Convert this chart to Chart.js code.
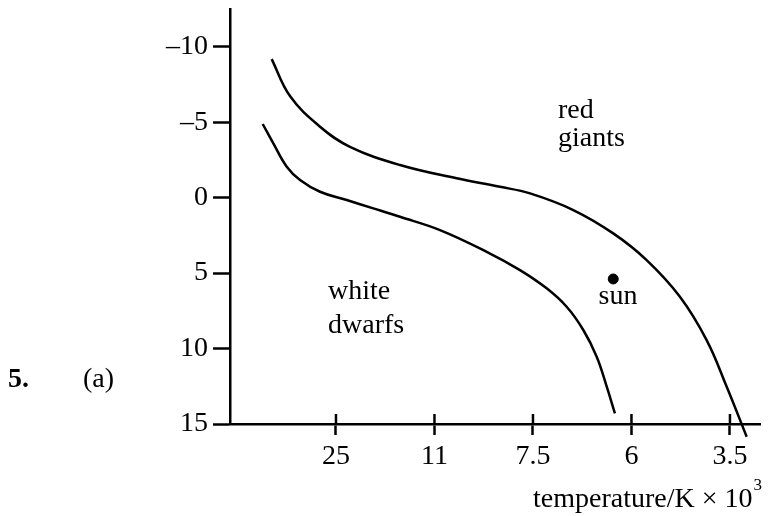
<!DOCTYPE html>
<html><head><meta charset="utf-8">
<script src="https://cdn.jsdelivr.net/npm/chart.js@4"></script>
<style>html,body{margin:0;padding:0;background:#fff}#wrap{width:774px;height:516px;position:relative}</style>
</head><body><div id="wrap"><canvas id="c" width="774" height="516" style="width:774px;height:516px"></canvas></div>
<script>
// ---- data ----
const xTickPositions = [1, 2, 3, 4, 5];
const xTickLabels = ['25', '11', '7.5', '6', '3.5'];
const yTickValues = [-10, -5, 0, 5, 10, 15];

const upperX = [0.347, 0.533, 0.838, 1.142, 1.650, 2.225, 2.665, 2.970, 3.409, 3.815, 4.154, 4.492, 4.763, 4.967, 5.170];
const upperY = [-9.18, -6.73, -4.70, -3.37, -2.16, -1.28, -0.72, -0.28, 0.82, 2.37, 4.14, 6.57, 9.44, 12.53, 15.85];

const lowerX = [0.256, 0.364, 0.500, 0.635, 0.838, 1.109, 1.379, 1.650, 2.056, 2.530, 2.868, 3.139, 3.342, 3.511, 3.647, 3.749, 3.832];
const lowerY = [-4.88, -3.60, -2.05, -1.17, -0.39, 0.16, 0.71, 1.27, 2.15, 3.59, 4.80, 6.01, 7.23, 8.77, 10.54, 12.53, 14.30];

const sunX = [3.815];
const sunY = [5.39];

const regionLabels = ['red', 'giants', 'white', 'dwarfs', 'sun'];
const regionLabelX = [3.254, 3.254, 0.919, 0.919, 3.863];
const regionLabelY = [-5.77, -3.91, 6.23, 8.49, 6.56];
const regionLabelAlign = ['left', 'left', 'left', 'left', 'center'];

// ---- chart ----
const FONT = "'Liberation Serif', 'DejaVu Serif', serif";
const FS = 28;
Chart.defaults.font.family = FONT;
Chart.defaults.font.size = FS;
Chart.defaults.color = '#000';

const toPts = (xs, ys) => xs.map((x, i) => ({x: x, y: ys[i]}));

const extras = {
  id: 'extras',
  afterDraw(chart) {
    const ctx = chart.ctx;
    const xs = chart.scales.x, ys = chart.scales.y;
    const bottom = chart.chartArea.bottom;
    ctx.save();
    // inner half of x ticks
    ctx.strokeStyle = '#000';
    ctx.lineWidth = 2.5;
    xTickPositions.forEach(v => {
      const px = xs.getPixelForValue(v);
      ctx.beginPath();
      ctx.moveTo(px, bottom);
      ctx.lineTo(px, bottom - 10);
      ctx.stroke();
    });
    // region labels
    ctx.fillStyle = '#000';
    ctx.font = FS + 'px ' + FONT;
    ctx.textBaseline = 'middle';
    regionLabels.forEach((t, i) => {
      ctx.textAlign = regionLabelAlign[i];
      ctx.fillText(t, xs.getPixelForValue(regionLabelX[i]), ys.getPixelForValue(regionLabelY[i]));
    });
    // axis title
    ctx.textAlign = 'left';
    const title = 'temperature/K \u00d7 10';
    ctx.fillText(title, 533, 500);
    const w = ctx.measureText(title).width;
    ctx.font = '17px ' + FONT;
    ctx.fillText('3', 533 + w + 1, 486);
    // question numbering
    ctx.font = 'bold ' + FS + 'px ' + FONT;
    ctx.fillText('5.', 8, 380);
    ctx.font = FS + 'px ' + FONT;
    ctx.fillText('(a)', 83, 380);
    ctx.restore();
  }
};

new Chart(document.getElementById('c'), {
  type: 'scatter',
  data: {
    datasets: [
      {data: toPts(upperX, upperY), showLine: true, borderColor: '#000', borderWidth: 2.5, pointRadius: 0, tension: 0.4, clip: false},
      {data: toPts(lowerX, lowerY), showLine: true, borderColor: '#000', borderWidth: 2.5, pointRadius: 0, tension: 0.4, clip: false},
      {data: toPts(sunX, sunY), showLine: false, pointRadius: 5, pointBackgroundColor: '#000', pointBorderColor: '#000', borderWidth: 1}
    ]
  },
  options: {
    responsive: false,
    animation: false,
    devicePixelRatio: 1,
    layout: {padding: {top: 9, right: 14, left: 0, bottom: 0}},
    plugins: {legend: {display: false}, tooltip: {enabled: false}},
    events: [],
    scales: {
      x: {
        type: 'linear', min: -0.076, max: 5.305,
        afterBuildTicks: s => { s.ticks = xTickPositions.map(v => ({value: v})); },
        afterFit: s => { s.height = 92; s.paddingLeft = 0; s.paddingRight = 0; },
        ticks: {padding: 5, maxRotation: 0, autoSkip: false,
          callback: (v, i) => xTickLabels[i]},
        grid: {display: true, drawOnChartArea: false, drawTicks: true, tickLength: 11, tickWidth: 2.5, tickColor: '#000'},
        border: {display: true, color: '#000', width: 2.5}
      },
      y: {
        type: 'linear', reverse: true, min: -12.5, max: 15,
        afterBuildTicks: s => { s.ticks = yTickValues.map(v => ({value: v})); },
        afterFit: s => { s.width = 230; s.paddingTop = 0; s.paddingBottom = 0; },
        ticks: {padding: 5, autoSkip: false,
          callback: v => (v < 0 ? '\u2013' + Math.abs(v) : String(v))},
        grid: {display: true, drawOnChartArea: false, drawTicks: true, tickLength: 17, tickWidth: 2.5, tickColor: '#000'},
        border: {display: true, color: '#000', width: 2.5}
      }
    }
  },
  plugins: [extras]
});
</script>
</body></html>
